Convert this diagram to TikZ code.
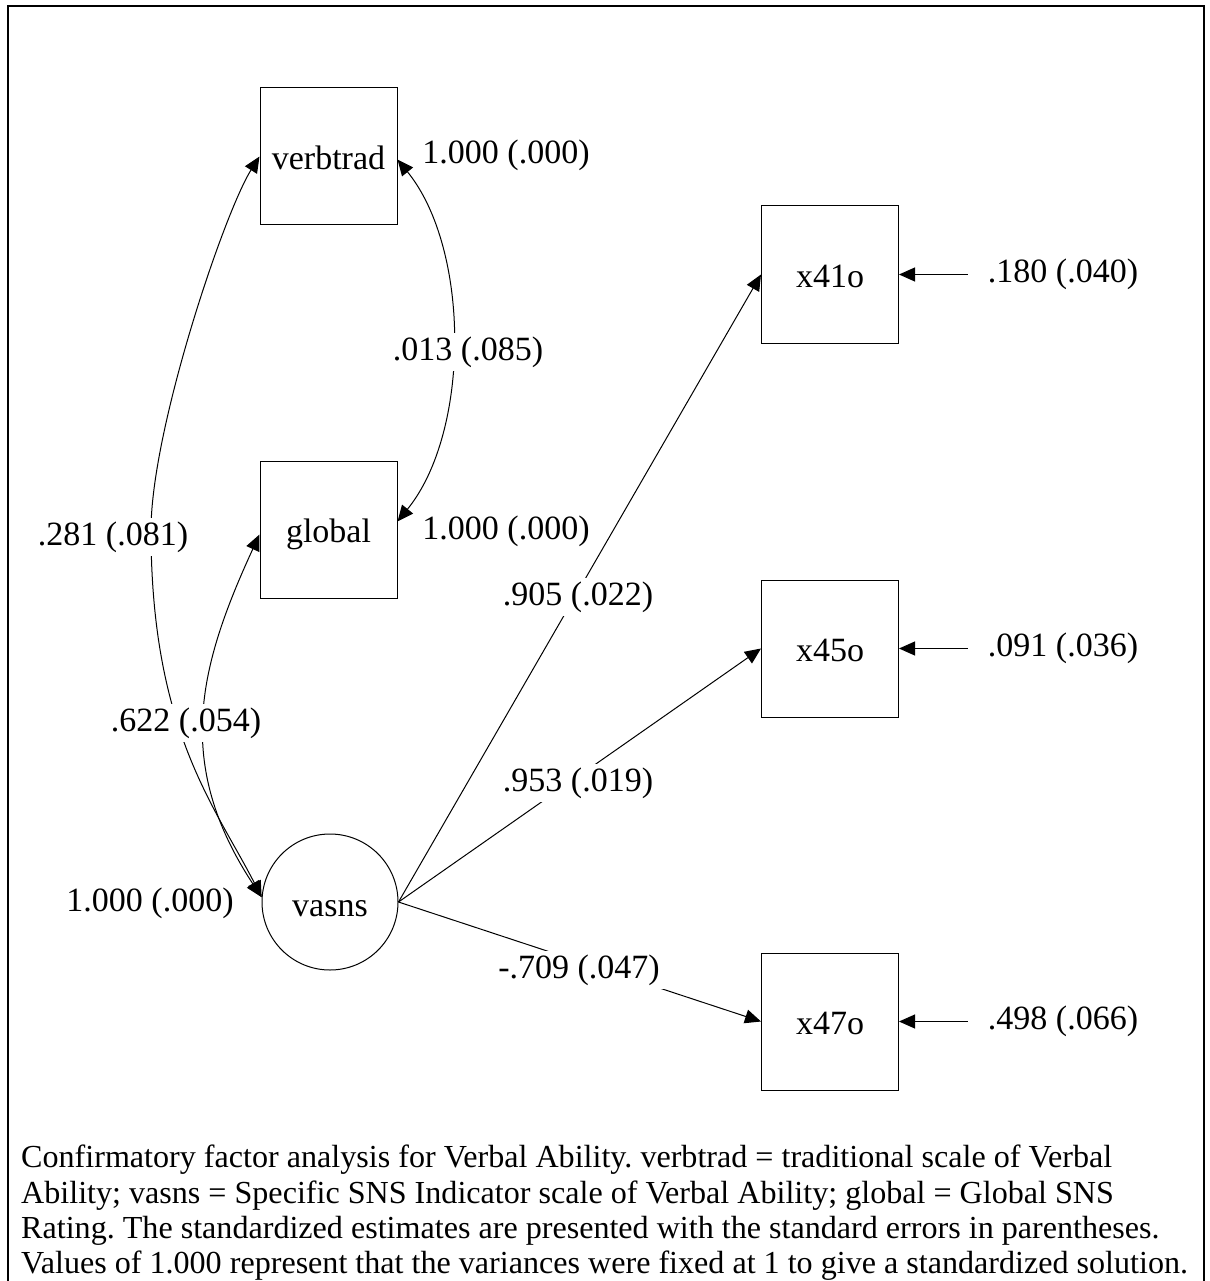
\documentclass[tikz,border=0pt]{standalone}
\usepackage{fontspec}
\setmainfont{Liberation Serif}
\usetikzlibrary{arrows.meta}
\frenchspacing

\begin{document}
\begin{tikzpicture}[x=1pt,y=-1pt,
		font=\fontsize{34}{40}\selectfont,
		obs/.style={draw,line width=1pt,minimum size=137pt,inner sep=0,text height=26pt,text depth=0pt},
		lat/.style={draw,circle,line width=1pt,minimum size=136pt,inner sep=0,text height=28pt,text depth=0pt},
		est/.style={fill=white,inner sep=4pt},
		arr/.style={line width=1pt,-{Triangle[length=16pt,width=14pt]}},
		dbl/.style={line width=1pt,{Triangle[length=16pt,width=14pt]}-{Triangle[length=16pt,width=14pt]}}]
		\useasboundingbox (0,0) rectangle (1209,1281);
		\draw [line width=2pt] (8,6) rectangle (1204,1300);
		\node [obs] (verbtrad) at (328.5,156.5) {verbtrad};
		\node [obs] (global) at (328.5,529.5) {global};
		\node [lat] (vasns) at (330,902) {vasns};
		\node [obs] (x41o) at (830,274.5) {x41o};
		\node [obs] (x45o) at (830,648.5) {x45o};
		\node [obs] (x47o) at (830,1021.5) {x47o};
		% loadings
		\draw [arr] (vasns.east) -- (x41o.west);
		\draw [arr] (vasns.east) -- (x45o.west);
		\draw [arr] (vasns.east) -- (x47o.west);
		% covariances
		\draw [dbl] ([yshift=-3pt]verbtrad.east) .. controls +(73,90) and +(73,-90) .. ([yshift=8pt]global.east);
		\draw [dbl] (verbtrad.west) .. controls (224,213) and (151,430) .. (151,530) .. controls (151,730) and (215,806) .. (vasns.176);
		\draw [dbl] ([yshift=-5pt]global.west) .. controls (198,668) and (174,764) .. (vasns.176);
		% estimates
		\node [est] (l41) at (578,597) {.905 (.022)};
		\node [est] (l45) at (578,783) {.953 (.019)};
		\node [est] (l47) at (579,970) {-.709 (.047)};
		\node [est] (cvg) at (468,352) {.013 (.085)};
		\node [est] (cvv) at (113,537) {.281 (.081)};
		\node [est] (cgv) at (186,723) {.622 (.054)};
		\node [est] (vv) at (506,155) {1.000 (.000)};
		\node [est] (vg) at (506,531) {1.000 (.000)};
		\node [est] (vl) at (150,903) {1.000 (.000)};
		% residuals
		\node [est] (r41) at (1063,274.5) {.180 (.040)};
		\node [est] (r45) at (1063,648.5) {.091 (.036)};
		\node [est] (r47) at (1063,1021.5) {.498 (.066)};
		\draw [arr] ([xshift=-16pt]r41.west) -- (x41o.east);
		\draw [arr] ([xshift=-16pt]r45.west) -- (x45o.east);
		\draw [arr] ([xshift=-16pt]r47.west) -- (x47o.east);
		\node [anchor=north west,inner sep=0,align=left,font=\fontsize{32.1}{35.3}\selectfont] (note) at (21,1145) {Confirmatory factor analysis for Verbal Ability. verbtrad = traditional scale of Verbal\\Ability; vasns = Specific SNS Indicator scale of Verbal Ability; global = Global SNS\\Rating. The standardized estimates are presented with the standard errors in parentheses.\\Values of 1.000 represent that the variances were fixed at 1 to give a standardized solution.};
	\end{tikzpicture}
\end{document}
